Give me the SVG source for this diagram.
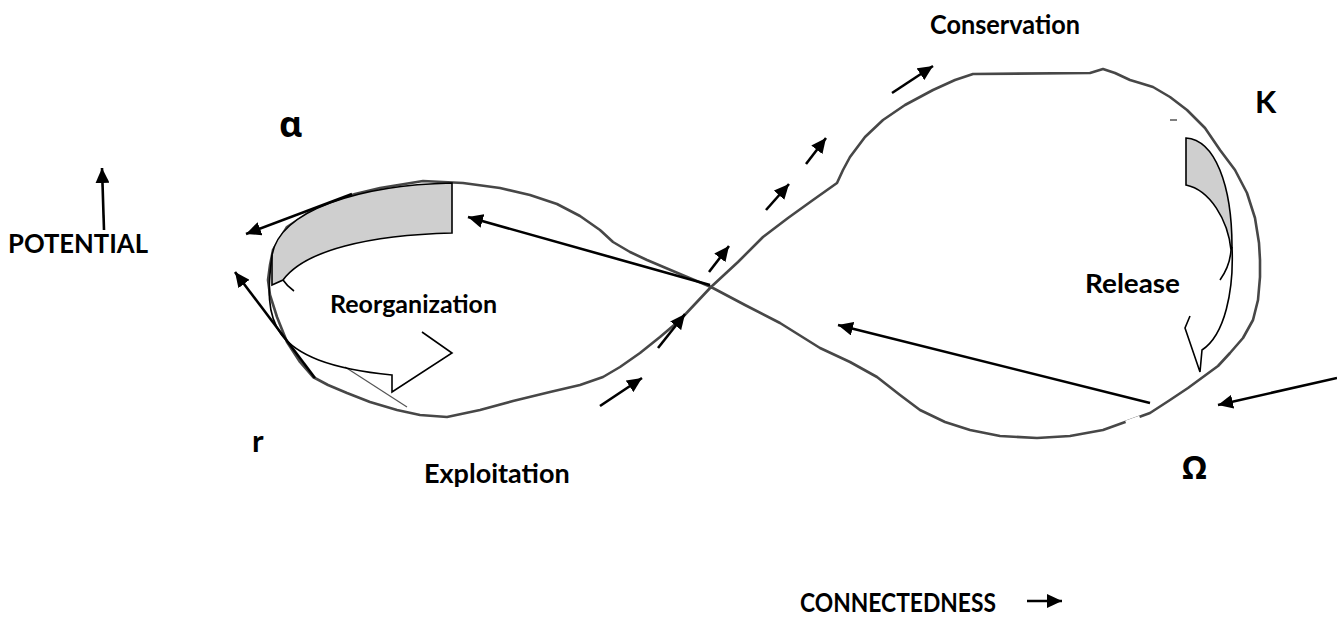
<svg xmlns="http://www.w3.org/2000/svg" width="1337" height="638" viewBox="0 0 1337 638">
<style>
.lbl{font-family:Lato,"Noto Sans","Liberation Sans",sans-serif;font-weight:bold;fill:#000}
.grk{font-family:"Noto Sans","DejaVu Sans",sans-serif;font-weight:bold;fill:#000}
.loop{fill:none;stroke:#474747;stroke-width:2.6;stroke-linejoin:round;stroke-linecap:round}
.rib{stroke:#000;stroke-width:1.6;stroke-linejoin:miter}
.gray{fill:#cfcfcf}
.arr{fill:none;stroke:#000;stroke-width:2.6;marker-end:url(#ah)}
</style>
<defs>
<marker id="ah" markerUnits="userSpaceOnUse" markerWidth="16" markerHeight="14" refX="15" refY="7" orient="auto">
<path d="M0,0 L15,7 L0,14 Z" fill="#000"/>
</marker>
</defs>
<rect width="1337" height="638" fill="#fff"/>

<g id="loop">
<path class="loop" d="M711,287 L745,305 L780,323 L820,348 L850,362 L877,377 L900,395 L920,410 L945,422 L970,430 L1000,436 L1037,438 L1070,436 L1103,430 L1128,421 L1150,413 L1170,400 L1188,388 L1203,377 L1218,366 L1230,353 L1243,338 L1253,320 L1258,300 L1260,277 L1260,260 L1259,243 L1255,218 L1247,193 L1235,170 L1220,150 L1205,128 L1187,110 L1170,97 L1153,87 L1140,83 L1130,80 L1115,73 L1103,69 L1090,73 L973,74 L955,80 L933,90 L905,105 L883,120 L865,137 L850,157 L843,170 L837,183 L813,200 L788,218 L763,237 L738,262 L711,287 L680,320 L660,337 L640,353 L620,367 L603,377 L580,385 L550,392 L513,401 L480,410 L447,417 L420,415 L397,410 L370,402 L347,393 L328,385 L313,377 L300,362 L287,342 L277,317 L270,295 L268,280 L270,265 L273,250 L287,227 L308,213 L330,203 L355,194 L380,188 L423,181 L463,183 L500,188 L530,195 L557,204 L580,216 L600,230 L613,242 L630,252 L647,260 L680,274 Z"/>
<path d="M1126,423 L1140,418" stroke="#fff" stroke-width="5"/>
<path d="M1170,120 L1177,120" stroke="#555" stroke-width="1.5"/>
<path d="M345,367 L407,407" stroke="#555" stroke-width="1.2"/>
</g>

<g id="reorganization-ribbon">
<path class="gray rib" d="M452,183 C360,185 280,210 272,255 L272,285 L283,280 C305,250 370,235 452,233 Z"/>
<path class="rib" fill="none" d="M272,255 C264,320 265,362 392,375 L392,392 L452,353 L422,332"/>
<path class="rib" fill="none" d="M283,280 Q287,286 294,291"/>
</g>

<g id="release-ribbon">
<path class="gray rib" d="M1186,138 C1215,140 1232,185 1232,247 L1231,250 C1228,220 1210,190 1186,185 Z"/>
<path class="rib" fill="none" d="M1231,250 Q1230,266 1220,280"/>
<path class="rib" fill="none" d="M1232,247 C1234,290 1225,335 1202,350 L1200,372 L1185,328 L1190,316"/>
</g>

<g id="connectors">
<line class="arr" x1="352" y1="194" x2="246" y2="234"/>
<line class="arr" x1="315" y1="378" x2="235" y2="272"/>
<line class="arr" x1="710" y1="285" x2="468" y2="217"/>
<line class="arr" x1="1150" y1="403" x2="838" y2="325"/>
<line class="arr" x1="1337" y1="378" x2="1218" y2="405"/>
<line class="arr" x1="600" y1="406" x2="642" y2="378"/>
<line class="arr" x1="658" y1="348" x2="685" y2="314"/>
<line class="arr" x1="709" y1="272" x2="729" y2="246"/>
<line class="arr" x1="766" y1="210" x2="789" y2="184"/>
<line class="arr" x1="806" y1="164" x2="826" y2="138"/>
<line class="arr" x1="892" y1="93" x2="933" y2="66"/>
<line class="arr" x1="104" y1="230" x2="102" y2="168"/>
<line class="arr" x1="1027" y1="601" x2="1062" y2="601"/>
</g>

<g id="label-conservation"><text class="lbl" x="930" y="34" font-size="26" textLength="150" lengthAdjust="spacingAndGlyphs">Conservation</text></g>
<g id="label-k"><text class="lbl" x="1255" y="113" font-size="31">K</text></g>
<g id="label-alpha"><text class="grk" x="279" y="137" font-size="36">α</text></g>
<g id="label-potential"><text class="lbl" x="8" y="253" font-size="26" textLength="140" lengthAdjust="spacingAndGlyphs">POTENTIAL</text></g>
<g id="label-reorganization"><text class="lbl" x="330" y="313" font-size="25">Reorganization</text></g>
<g id="label-release"><text class="lbl" x="1085" y="293" font-size="26" textLength="95" lengthAdjust="spacingAndGlyphs">Release</text></g>
<g id="label-r"><text class="lbl" x="252" y="452" font-size="31">r</text></g>
<g id="label-exploitation"><text class="lbl" x="424" y="483" font-size="27">Exploitation</text></g>
<g id="label-omega"><text class="grk" x="1182" y="479" font-size="33">Ω</text></g>
<g id="label-connectedness"><text class="lbl" x="800" y="612" font-size="26" textLength="196" lengthAdjust="spacingAndGlyphs">CONNECTEDNESS</text></g>
</svg>
